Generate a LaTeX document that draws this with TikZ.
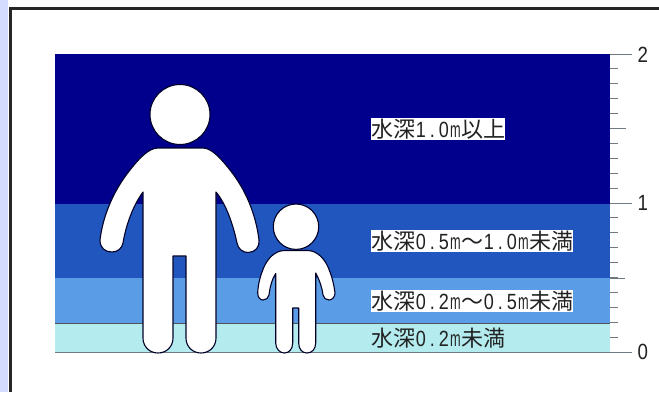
\documentclass[tikz,border=0pt]{standalone}
\usepackage{graphicx}
\usepackage{fontspec}
\setmainfont{Liberation Sans}
\newfontfamily\jpfont{Noto Sans CJK JP}
\definecolor{deep}{HTML}{00008C}
\definecolor{midblue}{HTML}{2056BE}
\definecolor{lightblue}{HTML}{5A9CE6}
\definecolor{shallow}{HTML}{B4EBEE}
\definecolor{strip}{HTML}{D4DCFF}
\definecolor{tickgray}{HTML}{707880}
\definecolor{ink}{HTML}{222222}
\newcommand{\hw}[1]{\makebox[11.5pt][c]{\scalebox{.82}[1]{#1}}}
\newcommand{\hwm}{\makebox[11.5pt][c]{\scalebox{.58}[1]{m}}}
\newcommand{\depthtext}[1]{{\jpfont #1}}
\tikzset{
  x=1pt,y=-1pt,
  band/.style={fill=#1,draw=none},
  person/.style={fill=white,draw=black!85!blue,line width=1.1pt,line join=round},
  tickline/.style={draw=tickgray,line width=1pt},
  deptlabel/.style={fill=white,inner sep=0pt,text=ink,anchor=west,minimum height=22pt,font=\fontsize{22}{24}\selectfont},
  axislabel/.style={text=ink,inner sep=0pt,font=\fontsize{22}{24}\selectfont},
}
\begin{document}
\begin{tikzpicture}
\useasboundingbox (0,0) rectangle (659,392);
\fill[white] (0,0) rectangle (659,392);
\fill[strip] (0,0) rectangle (8,392);
\draw[line width=2.4pt,draw=black!85] (10.5,392) -- (10.5,8.5) -- (659,8.5);
% water bands
\fill[band=deep] (55,54) rectangle (610,204);
\fill[band=midblue] (55,204) rectangle (610,278);
\fill[band=lightblue] (55,278) rectangle (610,323);
\fill[band=shallow] (55,323) rectangle (610,352);
\draw[tickline] (55,352) -- (610,352);
\draw[draw=tickgray!70!black,line width=.8pt] (55,323) -- (610,323);
% ticks
\foreach \i in {1,...,19}{
  \draw[tickline] (610,{54+\i*14.9}) -- (618,{54+\i*14.9});
}
\draw[tickline] (610,54) -- (632,54);
\draw[tickline] (610,128.5) -- (626,128.5);
\draw[tickline] (610,203.5) -- (632,203.5);
\draw[tickline] (610,278) -- (625,278);
\draw[tickline] (610,352) -- (632,352);
\node[axislabel] (two) at (642.7,55) {\scalebox{.85}[1]{2}};
\node[axislabel] (one) at (642.7,203) {\scalebox{.85}[1]{1}};
\node[axislabel] (zero) at (642.7,352) {\scalebox{.85}[1]{0}};
% adult
\draw[person] (180,114.5) circle (30);
\draw[person] (158,148)
  .. controls (148,148) and (138,160) .. (130,170)
  .. controls (114,190) and (103,215) .. (100,240)
  .. controls (100,248) and (105,252) .. (112,252)
  .. controls (118,252) and (122,248) .. (123,243)
  .. controls (126,224) and (134,204) .. (143,192)
  -- (143,338)
  .. controls (143,347) and (150,353) .. (158,353)
  .. controls (166,353) and (173,347) .. (173,338)
  -- (173,256) -- (186,256) -- (186,338)
  .. controls (186,347) and (193,353) .. (201,353)
  .. controls (209,353) and (216,347) .. (216,338)
  -- (216,192)
  .. controls (226,204) and (233,224) .. (237,243)
  .. controls (238,249) and (243,252.5) .. (248,252.5)
  .. controls (255,252.5) and (260,247) .. (259,240)
  .. controls (256,215) and (246,190) .. (230,170)
  .. controls (222,160) and (212,148) .. (203,148)
  -- cycle;
% child
\draw[person] (296,226.7) circle (22.7);
\draw[person] (284,250.5)
  .. controls (275,251) and (268,258) .. (264,267)
  .. controls (260,276) and (258,285) .. (257.7,293)
  .. controls (257.7,297) and (260,300) .. (263,300)
  .. controls (266,300) and (268.5,298) .. (269,295)
  .. controls (270,287) and (272,279) .. (275.7,273.5)
  -- (275.7,343)
  .. controls (275.7,349) and (280,353) .. (284.5,353)
  .. controls (289,353) and (292.7,349) .. (292.7,343)
  -- (292.7,308) -- (298.7,308) -- (298.7,343)
  .. controls (298.7,349) and (302,353) .. (307,353)
  .. controls (312,353) and (315.7,349) .. (315.7,343)
  -- (315.7,273)
  .. controls (319,279) and (322,287) .. (323,295)
  .. controls (323.5,298) and (326,300) .. (329,300)
  .. controls (332,300) and (335,297) .. (335,293)
  .. controls (334,285) and (332,276) .. (328,267)
  .. controls (324,258) and (317,251) .. (308,250.5)
  -- cycle;
% labels
\node[deptlabel] (d10) at (371,129) {\depthtext{水深}\hw{1}\hw{.}\hw{0}\hwm\depthtext{以上}};
\node[deptlabel] (d05) at (371,241) {\depthtext{水深}\hw{0}\hw{.}\hw{5}\hwm\depthtext{～}\hw{1}\hw{.}\hw{0}\hwm\depthtext{未満}};
\node[deptlabel] (d02) at (371,301) {\depthtext{水深}\hw{0}\hw{.}\hw{2}\hwm\depthtext{～}\hw{0}\hw{.}\hw{5}\hwm\depthtext{未満}};
\node[deptlabel,fill=none] (d00) at (371,338) {\depthtext{水深}\hw{0}\hw{.}\hw{2}\hwm\depthtext{未満}};
\end{tikzpicture}
\end{document}
